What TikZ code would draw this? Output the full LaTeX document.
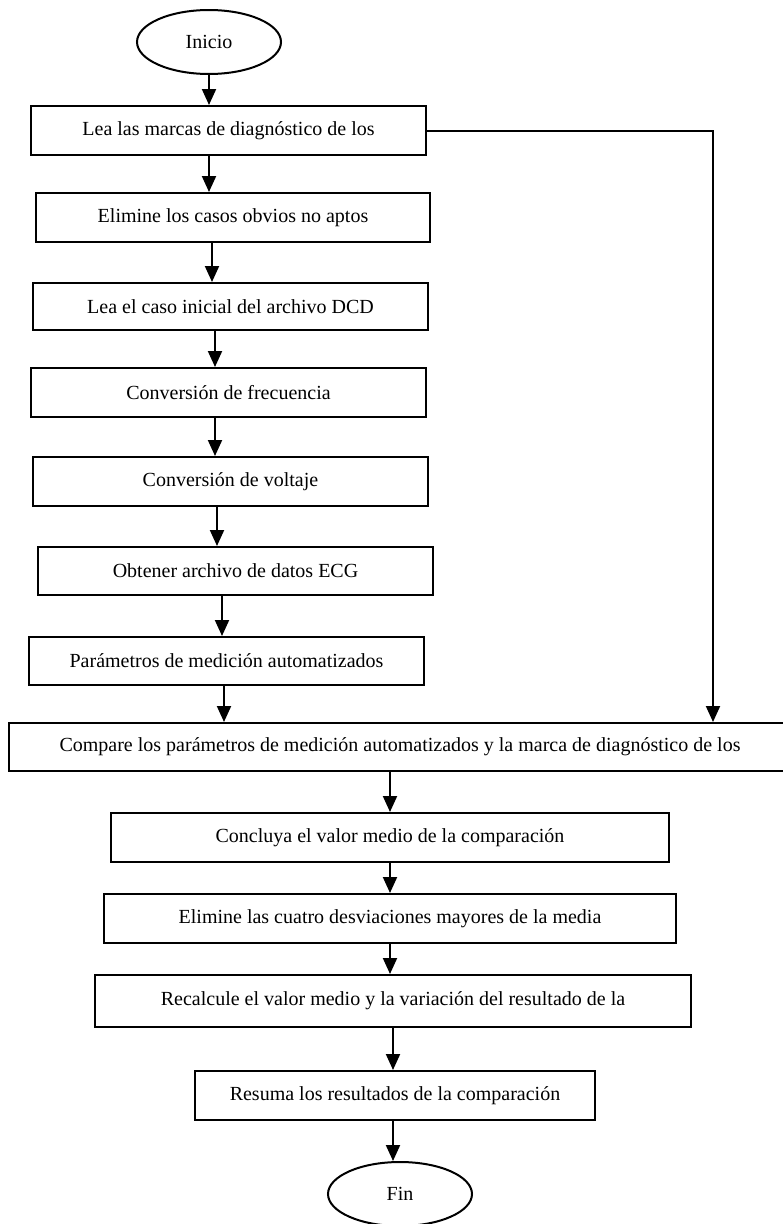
\documentclass[tikz,border=0pt]{standalone}
\usepackage{fontspec}
\setmainfont{Liberation Serif}
\usetikzlibrary{shapes.geometric,arrows.meta}
\tikzset{
  box/.style={draw, line width=1.5pt, rectangle, inner sep=0pt, font=\fontsize{15}{18}\selectfont},
  term/.style={draw, line width=1.5pt, ellipse, inner sep=0pt, minimum width=108pt, minimum height=48pt, font=\fontsize{15}{18}\selectfont},
  arr/.style={line width=1.5pt, -{Triangle[width=10.5pt,length=12pt]}},
  conn/.style={line width=1.5pt}
}
\newcommand\bx[6]{\node[box, minimum width={(#4-#2)*0.75pt}, minimum height={(#5-#3)*0.75pt}] (#1) at ({(#2+#4)/2},{(#3+#5)/2}) {#6};}
\begin{document}
\begin{tikzpicture}[x=0.75pt,y=-0.75pt]
\useasboundingbox (0,0) rectangle (782,1224);
\node[term] (ini) at (209,42) {Inicio};
\bx{b1}{31}{106}{426}{155}{Lea las marcas de diagnóstico de los}
\bx{b2}{36}{193}{430}{242}{Elimine los casos obvios no aptos}
\bx{b3}{33}{283}{428}{330}{Lea el caso inicial del archivo DCD}
\bx{b4}{31}{368}{426}{417}{Conversión de frecuencia}
\bx{b5}{33}{457}{428}{506}{Conversión de voltaje}
\bx{b6}{38}{547}{433}{595}{Obtener archivo de datos ECG}
\bx{b7}{29}{637}{424}{685}{Parámetros de medición automatizados}
\bx{cmp}{9}{723}{791}{771}{Compare los parámetros de medición automatizados y la marca de diagnóstico de los}
\bx{c1}{111}{813}{669}{862}{Concluya el valor medio de la comparación}
\bx{c2}{104}{894}{676}{943}{Elimine las cuatro desviaciones mayores de la media}
\bx{c3}{95}{975}{691}{1027}{Recalcule el valor medio y la variación del resultado de la}
\bx{c4}{195}{1071}{595}{1120}{Resuma los resultados de la comparación}
\node[term] (fin) at (400,1194) {Fin};
% arrow x positions
\coordinate (xa) at (209,0);
\coordinate (xb) at (212,0);
\coordinate (xc) at (215,0);
\coordinate (xd) at (217,0);
\coordinate (xe) at (222,0);
\coordinate (xf) at (224,0);
\coordinate (xg) at (390,0);
\coordinate (xh) at (393,0);
\coordinate (xr) at (713,0);
\draw[arr] (ini.south) -- (ini.south |- b1.north);
\draw[arr] (b1.south -| xa) -- (b2.north -| xa);
\draw[arr] (b2.south -| xb) -- (b3.north -| xb);
\draw[arr] (b3.south -| xc) -- (b4.north -| xc);
\draw[arr] (b4.south -| xc) -- (b5.north -| xc);
\draw[arr] (b5.south -| xd) -- (b6.north -| xd);
\draw[arr] (b6.south -| xe) -- (b7.north -| xe);
\draw[arr] (b7.south -| xf) -- (cmp.north -| xf);
\draw[arr] (b1.east) -- (b1.east -| xr) -- (cmp.north -| xr);
\draw[arr] (cmp.south -| xg) -- (c1.north -| xg);
\draw[arr] (c1.south -| xg) -- (c2.north -| xg);
\draw[arr] (c2.south -| xg) -- (c3.north -| xg);
\draw[arr] (c3.south -| xh) -- (c4.north -| xh);
\draw[arr] (c4.south -| xh) -- (fin.north -| xh);
\end{tikzpicture}
\end{document}
